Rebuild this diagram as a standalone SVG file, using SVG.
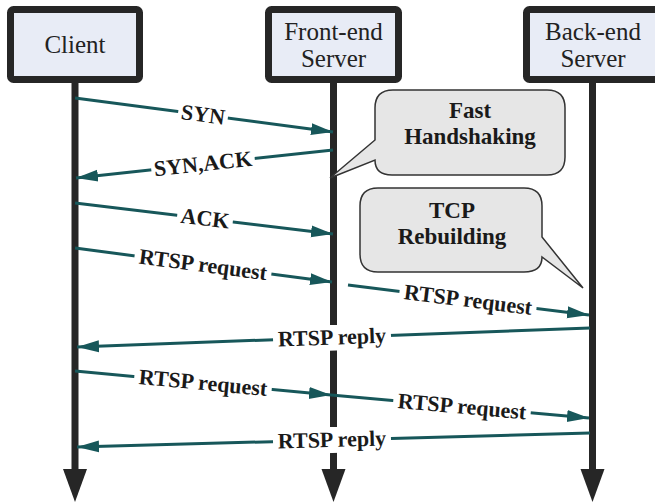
<svg xmlns="http://www.w3.org/2000/svg" width="655" height="502" viewBox="0 0 655 502" font-family="'Liberation Serif', 'DejaVu Serif', serif">
<style>
.box{fill:#e8ecf6;stroke:#262626;stroke-width:7}
.bt{font-family:'Liberation Serif','DejaVu Serif',serif;font-size:25px;fill:#222;text-anchor:middle}
.life{stroke:#262626;stroke-width:7;fill:none}
.head{fill:#262626}
.msg{stroke:#17575a;stroke-width:3;fill:none;marker-end:url(#ah)}
.lbg{fill:#fff}
.lt{font-family:'Liberation Serif','DejaVu Serif',serif;font-size:22px;font-weight:bold;fill:#1a1a1a;text-anchor:middle}
.call{fill:#e6e6e6;stroke:#333;stroke-width:1.5}
.ct{font-family:'Liberation Serif','DejaVu Serif',serif;font-size:23px;font-weight:bold;fill:#1a1a1a;text-anchor:middle}
</style>
<defs>
<marker id="ah" markerUnits="userSpaceOnUse" markerWidth="24" markerHeight="14" refX="22" refY="7" orient="auto">
<path d="M0,1 L22,7 L0,13 z" fill="#17575a"/>
</marker>
</defs>

<g id="lifelines">
<line class="life" x1="75" y1="83" x2="75" y2="470"/>
<polygon class="head" points="63,469 87,469 75,502"/>
<line class="life" x1="333.5" y1="83" x2="333.5" y2="325"/>
<line class="life" x1="333.5" y1="350" x2="333.5" y2="427"/>
<line class="life" x1="333.5" y1="452" x2="333.5" y2="470"/>
<polygon class="head" points="321.5,469 345.5,469 333.5,502"/>
<line class="life" x1="592.5" y1="83" x2="592.5" y2="470"/>
<polygon class="head" points="580.5,469 604.5,469 592.5,502"/>
</g>

<g id="client">
<rect class="box" x="10.5" y="9.5" width="129" height="70" rx="3"/>
<text class="bt" x="75" y="53">Client</text>
</g>
<g id="front-end-server">
<rect class="box" x="268.5" y="9.5" width="130" height="70" rx="3"/>
<text class="bt" x="333.5" y="40">Front-end</text>
<text class="bt" x="333.5" y="67">Server</text>
</g>
<g id="back-end-server">
<rect class="box" x="526.5" y="9.5" width="134" height="70" rx="3"/>
<text class="bt" x="593" y="40">Back-end</text>
<text class="bt" x="593" y="67">Server</text>
</g>

<g id="fast-handshaking">
<path class="call" d="M393,90 H547 Q565,90 565,108 V157 Q565,175 547,175 H392 Q375,175 375,160 L330,178 L375,140 V108 Q375,90 393,90 Z"/>
<text class="ct" x="470" y="118">Fast</text>
<text class="ct" x="470" y="144">Handshaking</text>
</g>
<g id="tcp-rebuilding">
<path class="call" d="M378,188 H524 Q542,188 542,206 V237 L583,288 L542,257 Q542,272 524,272 H378 Q360,272 360,254 V206 Q360,188 378,188 Z"/>
<text class="ct" x="452" y="218">TCP</text>
<text class="ct" x="452" y="244">Rebuilding</text>
</g>

<g id="connectors">
<line class="msg" x1="75" y1="98" x2="333" y2="132"/>
<g transform="translate(203,114.9) rotate(7.5)"><rect class="lbg" x="-25" y="-12" width="50" height="24"/><text class="lt" y="7">SYN</text></g>

<line class="msg" x1="333" y1="150" x2="76" y2="178"/>
<g transform="translate(203,164.1) rotate(-6.2)"><rect class="lbg" x="-52" y="-12" width="104" height="24"/><text class="lt" y="7">SYN,ACK</text></g>

<line class="msg" x1="75" y1="203" x2="333" y2="234"/>
<g transform="translate(205,218.6) rotate(6.85)"><rect class="lbg" x="-28" y="-12" width="56" height="24"/><text class="lt" y="7">ACK</text></g>

<line class="msg" x1="75" y1="248" x2="332" y2="282"/>
<g transform="translate(203,264.9) rotate(7.5)"><rect class="lbg" x="-69" y="-12" width="138" height="24"/><text class="lt" y="7">RTSP request</text></g>

<line class="msg" x1="348" y1="285" x2="589" y2="315"/>
<g transform="translate(468,300) rotate(7.1)"><rect class="lbg" x="-69" y="-12" width="138" height="24"/><text class="lt" y="7">RTSP request</text></g>

<line class="msg" x1="590" y1="328" x2="77" y2="347"/>
<g transform="translate(332,337.6) rotate(-2.1)"><rect class="lbg" x="-59" y="-12" width="118" height="25"/><text class="lt" y="7">RTSP reply</text></g>

<line class="msg" x1="75" y1="371" x2="331" y2="395"/>
<g transform="translate(203,383) rotate(5.4)"><rect class="lbg" x="-69" y="-12" width="138" height="24"/><text class="lt" y="7">RTSP request</text></g>

<line class="msg" x1="331" y1="395" x2="589" y2="418"/>
<g transform="translate(462,406.7) rotate(5.1)"><rect class="lbg" x="-69" y="-12" width="138" height="24"/><text class="lt" y="7">RTSP request</text></g>

<line class="msg" x1="590" y1="433" x2="77" y2="447"/>
<g transform="translate(332,440) rotate(-1.6)"><rect class="lbg" x="-59" y="-12" width="118" height="25"/><text class="lt" y="7">RTSP reply</text></g>
</g>
</svg>
